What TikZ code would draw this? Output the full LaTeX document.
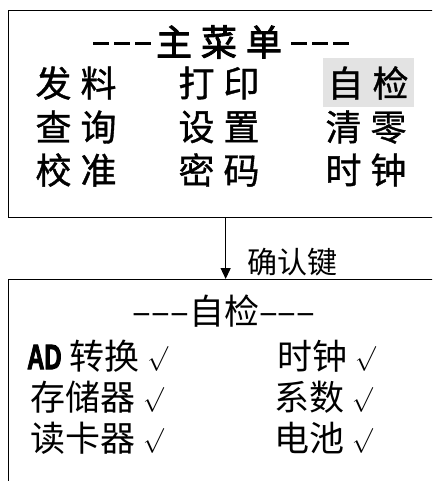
\documentclass[tikz,border=0pt]{standalone}
\usepackage{fontspec}
\setmainfont{Noto Sans CJK SC}
\newfontfamily\menufont[FakeBold=1]{Noto Sans CJK SC}
\newfontfamily\titlefont[FakeBold=2.5]{Noto Sans CJK SC}
\newfontfamily\adfont[FakeBold=3]{Liberation Sans}
\usetikzlibrary{positioning, arrows.meta}
\newcommand{\gp}{\hspace{9pt}}
\newcommand{\ad}{\scalebox{0.68}[1]{\adfont\bfseries AD}}
\newcommand{\ok}{\raisebox{4pt}{\fontsize{32}{32}\selectfont$\surd$}}
\newcommand{\dsh}{\rule[11pt]{16pt}{2.6pt}\hspace{5pt}}

\begin{document}
\begin{tikzpicture}[x=1pt, y=-1pt,
    menubox/.style={draw, line width=1.3pt, minimum width=434pt, anchor=north west, inner sep=0pt},
    item/.style={font=\menufont\fontsize{36}{36}\selectfont, inner sep=0pt},
    entry/.style={font=\fontsize{35}{35}\selectfont, inner sep=0pt, anchor=west, text height=28pt, text depth=4pt},
    arrow/.style={-{Triangle[width=10pt, length=11pt]}, line width=1.3pt}
]
    \clip (0,0) rectangle (432,481);

    % NODES
    \node[menubox, minimum height=207pt] (mainmenu) at (8,10) {};
    \node[menubox, minimum height=220pt] (selftest) at (8,279) {};

    \node[item, font=\titlefont\fontsize{36}{36}\selectfont] (menutitle) at (221,42) {\dsh\dsh\dsh 主\gp 菜\gp 单\gp\dsh\dsh\dsh};
    \node[item] (faliao) at (76,83) {发\gp 料};
    \node[item] (dayin) at (219,83) {打\gp 印};
    \node[item, fill=gray!22, minimum width=91pt, minimum height=49pt] (zijian) at (368,83) {自\gp 检};
    \node[item] (chaxun) at (76,127) {查\gp 询};
    \node[item] (shezhi) at (219,127) {设\gp 置};
    \node[item] (qingling) at (366,127) {清\gp 零};
    \node[item] (jiaozhun) at (76,170) {校\gp 准};
    \node[item] (mima) at (219,170) {密\gp 码};
    \node[item] (shizhong) at (366,170) {时\gp 钟};

    \node[entry, anchor=center] (testtitle) at (224,312) {–––自检–––};
    \node[entry] (adconv) at (27,357) {\ad\ 转换 \ok};
    \node[entry] (memory) at (30,398) {存储器 \ok};
    \node[entry] (reader) at (30,439) {读卡器 \ok};
    \node[entry] (clock) at (277,357) {时钟 \ok};
    \node[entry] (coeff) at (274,398) {系数 \ok};
    \node[entry] (battery) at (274,439) {电池 \ok};

    % EDGES
    \draw[arrow] (mainmenu.south) -- node[pos=0.72, right=21pt, inner sep=0pt, font=\fontsize{30}{30}\selectfont] (confirm) {确认键} (selftest.north);

\end{tikzpicture}
\end{document}
